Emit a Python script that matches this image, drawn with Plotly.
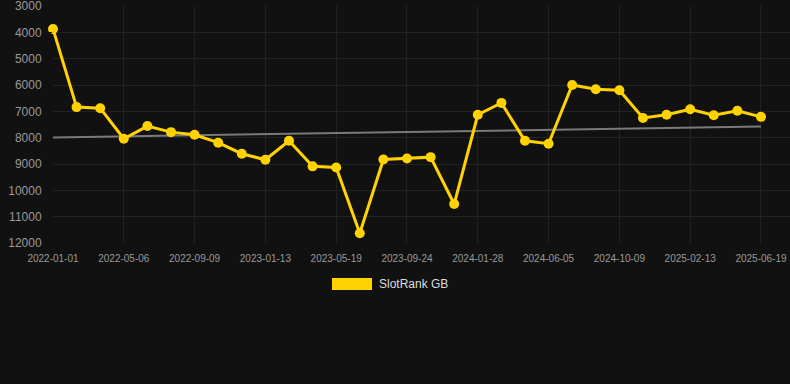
import plotly.graph_objects as go

dates = ["2022-01-01", "2022-02-12", "2022-03-26", "2022-05-06", "2022-06-17", "2022-07-29",
         "2022-09-09", "2022-10-21", "2022-12-02", "2023-01-13", "2023-02-24", "2023-04-07",
         "2023-05-19", "2023-07-01", "2023-08-12", "2023-09-24", "2023-11-05", "2023-12-17",
         "2024-01-28", "2024-03-10", "2024-04-23", "2024-06-05", "2024-07-17", "2024-08-28",
         "2024-10-09", "2024-11-20", "2025-01-01", "2025-02-13", "2025-03-27", "2025-05-08",
         "2025-06-19"]
rank = [3870, 6840, 6880, 8040, 7560, 7790, 7890, 8190, 8610, 8840, 8120, 9090,
        9130, 11630, 8830, 8790, 8740, 10520, 7130, 6680, 8120, 8230, 6000, 6160,
        6200, 7250, 7130, 6920, 7150, 6980, 7210]
trend_dates = ["2022-01-01", "2025-06-19"]
trend_vals = [7990, 7580]
tick_labels = dates[::3]
y_ticks = [3000, 4000, 5000, 6000, 7000, 8000, 9000, 10000, 11000, 12000]
y_tick_text = [str(v) for v in y_ticks]

BG = "#111111"
GOLD = "#FFD200"

fig = go.Figure()
fig.add_trace(go.Scatter(x=trend_dates, y=trend_vals, mode="lines",
                         line=dict(color="#7a7a7a", width=2), showlegend=False,
                         hoverinfo="skip"))
fig.add_trace(go.Scatter(x=dates, y=rank, mode="lines+markers", name="SlotRank GB",
                         line=dict(color=GOLD, width=3),
                         marker=dict(color=GOLD, size=10), showlegend=False,
                         cliponaxis=False))

# legend drawn manually
L, R, T, B = 53, 790, 6, 243
W, H = R - L, B - T
def px(x):
    return (x - L) / W
def py(y):
    return 1 - (y - T) / H

fig.add_shape(type="rect", xref="paper", yref="paper",
              x0=px(332), x1=px(372), y0=py(290), y1=py(278),
              fillcolor=GOLD, line=dict(width=0))
fig.add_annotation(xref="paper", yref="paper", x=px(377), y=py(284),
                   text="SlotRank GB", showarrow=False, xanchor="left", yanchor="middle",
                   font=dict(color="#dddddd", size=12, family="Liberation Sans, Arial"))

fig.update_layout(
    width=790, height=384,
    paper_bgcolor=BG, plot_bgcolor=BG,
    margin=dict(l=L, r=790 - R, t=T, b=384 - B),
    font=dict(family="Liberation Sans, Arial", color="#999999"),
    showlegend=False,
    xaxis=dict(type="category", categoryorder="array", categoryarray=dates,
               range=[0, 31.23], tickmode="array", tickvals=tick_labels,
               ticktext=tick_labels, tickfont=dict(size=10, color="#999999"),
               showgrid=True, gridcolor="#222222", gridwidth=1, zeroline=False,
               showline=False, ticks="outside", ticklen=6, tickcolor=BG,
               ticklabeloverflow="allow"),
    yaxis=dict(range=[12000.5, 2999.5], tickmode="array", tickvals=y_ticks,
               ticktext=y_tick_text,
               tickfont=dict(size=12, color="#999999"), showgrid=True,
               gridcolor="#222222", gridwidth=1, zeroline=False, showline=False,
               ticks="outside", ticklen=8, tickcolor=BG, ticklabeloverflow="allow"),
)

fig.write_html("out.html", config={"displayModeBar": False},
               post_script="document.body.style.margin='0';document.body.style.background='#111111';")
